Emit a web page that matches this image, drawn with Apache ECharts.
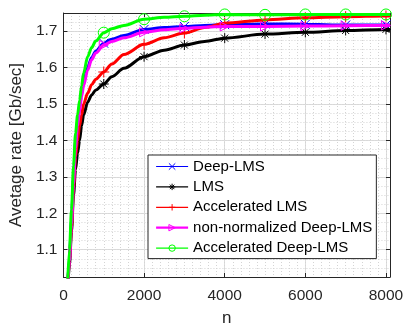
<!DOCTYPE html>
<html>
<head>
<meta charset="utf-8">
<script src="https://cdn.jsdelivr.net/npm/echarts@6/dist/echarts.min.js"></script>
<style>
html,body{margin:0;padding:0;background:#fff;}
#chart{width:415px;height:334px;}
</style>
</head>
<body>
<div id="chart"></div>
<script>
// ---- data ----
const nValues = [100,150,200,250,300,350,400,450,500,600,700,800,1000,1200,1500,2000,2500,3000,3500,4000,5000,6000,7000,8000,8100];
const deepLMS = [0.99,1.08,1.18,1.30,1.40,1.45,1.49,1.53,1.56,1.60,1.628,1.645,1.667,1.678,1.688,1.705,1.710,1.713,1.716,1.718,1.720,1.719,1.717,1.717,1.717];
const lms = [0.98,1.06,1.15,1.25,1.32,1.365,1.40,1.44,1.47,1.505,1.525,1.538,1.555,1.575,1.598,1.630,1.648,1.662,1.672,1.681,1.692,1.697,1.702,1.705,1.705];
const accLMS = [0.99,1.07,1.16,1.27,1.355,1.40,1.44,1.47,1.50,1.53,1.553,1.568,1.588,1.610,1.636,1.664,1.682,1.695,1.710,1.722,1.731,1.737,1.740,1.742,1.742];
const nonNormDeepLMS = [0.99,1.07,1.17,1.28,1.38,1.44,1.48,1.52,1.55,1.593,1.622,1.640,1.662,1.672,1.682,1.697,1.704,1.708,1.711,1.713,1.713,1.714,1.715,1.716,1.716];
const accDeepLMS = [1.00,1.10,1.21,1.33,1.42,1.47,1.51,1.55,1.585,1.63,1.655,1.673,1.696,1.707,1.716,1.733,1.738,1.741,1.744,1.746,1.745,1.746,1.746,1.746,1.746];
const markerN = [1000,2000,3000,4000,5000,6000,7000,8000];
const seriesNames = ['Deep-LMS','LMS','Accelerated LMS','non-normalized Deep-LMS','Accelerated Deep-LMS'];
const xTicks = [0,2000,4000,6000,8000];
const yTicks = [1.1,1.2,1.3,1.4,1.5,1.6,1.7];
const xLabel = 'n';
const yLabel = 'Avetage rate [Gb/sec]';

// ---- styling ----
const colors = ['#0000ff','#000000','#ff0000','#ff00ff','#00ff00'];
const symbols = [
  'path://M0,0L10,10M10,0L0,10',
  'path://M5,0L5,10M0,5L10,5M1.5,1.5L8.5,8.5M8.5,1.5L1.5,8.5',
  'path://M5,0L5,10M0,5L10,5',
  'path://M0,0L10,5L0,10Z',
  'circle'
];
const symSizes = [9,10,11,9,11];
const allValues = [deepLMS,lms,accLMS,nonNormDeepLMS,accDeepLMS];
const FONT = '"Liberation Sans", Arial, Helvetica, sans-serif';
const TXT = '#262626';
const CLEAR = 'rgba(0,0,0,0)';

function buildData(vals){
  return nValues.map((n,i)=>{
    if (markerN.indexOf(n) >= 0) return {value:[n, vals[i]]};
    return {value:[n, vals[i]], symbol:'none'};
  });
}

const series = allValues.map((vals,k)=>({
  name: seriesNames[k],
  type: 'line',
  xAxisIndex: 0,
  yAxisIndex: 0,
  data: buildData(vals),
  symbol: symbols[k],
  symbolSize: symSizes[k],
  showSymbol: true,
  showAllSymbol: true,
  smooth: 0.3,
  smoothMonotone: 'x',
  clip: true,
  lineStyle: {color: colors[k], width: 3},
  itemStyle: {color: CLEAR, borderColor: colors[k], borderWidth: 1},
  emphasis: {disabled: true},
  z: 2 + k
}));

const chart = echarts.init(document.getElementById('chart'), null, {renderer:'canvas'});
const grid = {left:58, top:13, right:25, bottom:57, containLabel:false};

function isTick(v, arr){ return arr.some(t=>Math.abs(t-v)<1e-6); }

const option = {
  animation: false,
  backgroundColor: '#fff',
  textStyle: {fontFamily: FONT},
  grid: grid,
  legend: {
    data: seriesNames.map((nm,k)=>({
      name: nm,
      itemStyle: {color: CLEAR, borderColor: colors[k], borderWidth: 1},
      lineStyle: {color: colors[k], width: k===3 ? 2.2 : 1.2}
    })),
    orient: 'vertical',
    left: 148,
    top: 155,
    itemWidth: 32,
    itemHeight: 8,
    itemGap: 5.4,
    padding: [4,4,3,7],
    backgroundColor: '#fff',
    borderColor: TXT,
    borderWidth: 1,
    borderRadius: 0,
    textStyle: {fontFamily: FONT, fontSize: 15, color: '#000', lineHeight: 15},
    selectedMode: false
  },
  xAxis: [
    { // main bottom
      type:'value', position:'bottom', min:0, max:8100, interval:2000,
      axisLine:{show:true, onZero:false, lineStyle:{color:TXT, width:1}},
      axisTick:{show:true, inside:true, length:4, lineStyle:{color:TXT}},
      axisLabel:{show:true, margin:11, color:TXT, fontSize:15.5, fontFamily:FONT,
        formatter:v=> isTick(v,xTicks) ? String(v) : ''},
      splitLine:{show:true, lineStyle:{color:'#dcdcdc', width:1}},
      name:xLabel, nameLocation:'middle', nameGap:33,
      nameTextStyle:{color:TXT, fontSize:17, fontFamily:FONT}
    },
    { // top border
      type:'value', position:'top', min:0, max:8100, interval:2000,
      axisLine:{show:true, onZero:false, lineStyle:{color:TXT, width:1}},
      axisTick:{show:true, inside:true, length:4, lineStyle:{color:TXT}},
      axisLabel:{show:false}, splitLine:{show:false}
    },
    { // minor grid
      type:'value', position:'bottom', min:0, max:8100, interval:200,
      axisLine:{show:false}, axisTick:{show:false}, axisLabel:{show:false},
      splitLine:{show:true, lineStyle:{color:'#d4d4d4', width:1, type:[1,2]}}
    }
  ],
  yAxis: [
    { // main left
      type:'value', position:'left', min:1.025, max:1.75, splitNumber:7,
      axisLine:{show:true, onZero:false, lineStyle:{color:TXT, width:1}},
      axisTick:{show:true, inside:true, length:4, lineStyle:{color:TXT}},
      axisLabel:{show:true, margin:6, color:TXT, fontSize:15.5, fontFamily:FONT,
        formatter:v=> isTick(v,yTicks) ? v.toFixed(1) : ''},
      splitLine:{show:true, lineStyle:{color:'#dcdcdc', width:1}},
      name:yLabel, nameLocation:'middle', nameGap:32,
      nameTextStyle:{color:TXT, fontSize:17, fontFamily:FONT}
    },
    { // right border
      type:'value', position:'right', min:1.025, max:1.75, splitNumber:7,
      axisLine:{show:true, onZero:false, lineStyle:{color:TXT, width:1}},
      axisTick:{show:true, inside:true, length:4, lineStyle:{color:TXT}},
      axisLabel:{show:false}, splitLine:{show:false}
    },
    { // minor grid
      type:'value', position:'left', min:1.025, max:1.75, interval:0.025,
      axisLine:{show:false}, axisTick:{show:false}, axisLabel:{show:false},
      splitLine:{show:true, lineStyle:{color:'#d4d4d4', width:1, type:[1,2]}}
    }
  ],
  series: series
};
chart.setOption(option);
</script>
</body>
</html>
